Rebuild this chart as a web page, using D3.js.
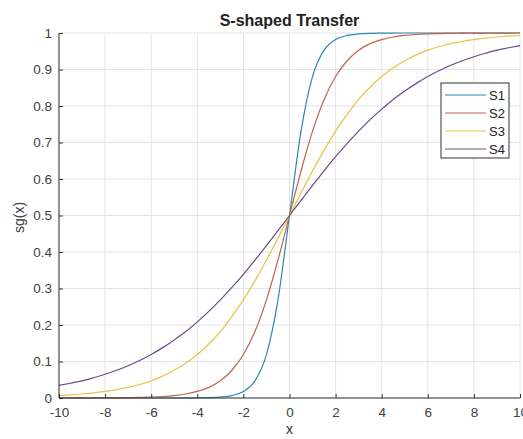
<!DOCTYPE html>
<html>
<head>
<meta charset="utf-8">
<script src="https://cdn.jsdelivr.net/npm/d3@7"></script>
<style>
  body { margin: 0; background: #fff; }
  svg { font-family: "Liberation Sans", Arial, sans-serif; }
  .grid line { stroke: #e4e4e4; stroke-width: 1; }
  .axis path, .axis line { stroke: #333; }
  .axis text { fill: #404040; font-size: 13.5px; }
</style>
</head>
<body>
<svg width="523" height="439"></svg>
<script>
// x values, every 0.5
var xs = [-10,-9.5,-9,-8.5,-8,-7.5,-7,-6.5,-6,-5.5,-5,-4.5,-4,-3.5,-3,-2.5,-2,-1.5,-1,-0.5,
          0,0.5,1,1.5,2,2.5,3,3.5,4,4.5,5,5.5,6,6.5,7,7.5,8,8.5,9,9.5,10];

var s1 = [0,0,0,0,0,0,0,0,0,0,0,0.0001,0.0003,0.0009,0.0025,0.0067,0.018,0.047,0.119,0.269,
          0.5,0.731,0.881,0.953,0.982,0.9933,0.9975,0.9991,0.9997,0.9999,1,1,1,1,1,1,1,1,1,1,1];
var s2 = [0.00005,0.00007,0.0001,0.0002,0.0003,0.0006,0.0009,0.0015,0.0025,0.0041,0.0067,0.011,0.018,0.029,0.047,0.076,0.119,0.182,0.269,0.378,
          0.5,0.622,0.731,0.818,0.881,0.924,0.953,0.971,0.982,0.989,0.9933,0.9959,0.9975,0.9985,0.9991,0.9994,0.9997,0.9998,0.9999,0.99993,0.99995];
var s3 = [0.0067,0.0086,0.011,0.014,0.018,0.023,0.029,0.037,0.047,0.060,0.076,0.095,0.119,0.148,0.182,0.223,0.269,0.321,0.378,0.438,
          0.5,0.562,0.622,0.679,0.731,0.777,0.818,0.852,0.881,0.905,0.924,0.940,0.953,0.963,0.971,0.977,0.982,0.986,0.989,0.9914,0.9933];
var s4 = [0.0345,0.0405,0.047,0.0556,0.065,0.0759,0.0884,0.1028,0.1192,0.138,0.159,0.182,0.2086,0.2375,0.269,0.303,0.339,0.3775,0.4174,0.4584,
          0.5,0.5416,0.5826,0.6225,0.661,0.697,0.731,0.7625,0.7914,0.818,0.841,0.862,0.8808,0.8972,0.9116,0.9241,0.935,0.9444,0.953,0.9595,0.9655];

var seriesNames = ["S1", "S2", "S3", "S4"];
var seriesVals = [s1, s2, s3, s4];
var colors = ["#2f86b4", "#c0634a", "#e9c24a", "#6c4a88"];

var xTicks = [-10,-8,-6,-4,-2,0,2,4,6,8,10];
var yTicks = [0,0.1,0.2,0.3,0.4,0.5,0.6,0.7,0.8,0.9,1];

var svg = d3.select("svg");
var margin = {top: 33, right: 3, bottom: 41, left: 59};
var plotWidth = 523 - margin.left - margin.right;
var plotHeight = 439 - margin.top - margin.bottom;

var xScale = d3.scaleLinear().domain([-10, 10]).range([0, plotWidth]);
var yScale = d3.scaleLinear().domain([0, 1]).range([plotHeight, 0]);

var plot = svg.append("g").attr("transform", "translate(" + margin.left + "," + margin.top + ")");

// grid
var grid = plot.append("g").attr("class", "grid");
grid.selectAll("line.v").data(xTicks).enter().append("line")
  .attr("x1", function(d) { return xScale(d); })
  .attr("x2", function(d) { return xScale(d); })
  .attr("y1", 0).attr("y2", plotHeight);
grid.selectAll("line.h").data(yTicks).enter().append("line")
  .attr("y1", function(d) { return yScale(d); })
  .attr("y2", function(d) { return yScale(d); })
  .attr("x1", 0).attr("x2", plotWidth);

// lines
var line = d3.line()
  .x(function(d) { return xScale(d[0]); })
  .y(function(d) { return yScale(d[1]); })
  .curve(d3.curveMonotoneX);

for (var i = 0; i < seriesVals.length; i++) {
  plot.append("path")
    .datum(d3.zip(xs, seriesVals[i]))
    .attr("fill", "none")
    .attr("stroke", colors[i])
    .attr("stroke-width", 1.2)
    .attr("d", line);
}

// axes
var xAxis = d3.axisBottom(xScale).tickValues(xTicks).tickSize(-4).tickPadding(9)
  .tickFormat(function(d) { return d; });
var yAxis = d3.axisLeft(yScale).tickValues(yTicks).tickSize(-4).tickPadding(7)
  .tickFormat(function(d) { return d; });

plot.append("g").attr("class", "axis")
  .attr("transform", "translate(0," + plotHeight + ")")
  .call(xAxis)
  .call(function(g) { g.select(".domain").attr("d", "M0,0H" + plotWidth); });
plot.append("g").attr("class", "axis")
  .call(yAxis)
  .call(function(g) { g.select(".domain").attr("d", "M0," + plotHeight + "V0"); });

// title and labels
svg.append("text")
  .attr("x", margin.left + xScale(0))
  .attr("y", 26)
  .attr("text-anchor", "middle")
  .style("font-size", "16px")
  .style("font-weight", "bold")
  .attr("fill", "#222")
  .text("S-shaped Transfer");

svg.append("text")
  .attr("x", margin.left + xScale(0))
  .attr("y", 434)
  .attr("text-anchor", "middle")
  .style("font-size", "14px")
  .attr("fill", "#333")
  .text("x");

svg.append("text")
  .attr("transform", "translate(24," + (margin.top + plotHeight / 2 + 2) + ") rotate(-90)")
  .attr("text-anchor", "middle")
  .style("font-size", "14px")
  .attr("fill", "#404040")
  .text("sg(x)");

// legend
var legend = svg.append("g").attr("transform", "translate(441,83)");
legend.append("rect")
  .attr("width", 68).attr("height", 75)
  .attr("fill", "#fff").attr("stroke", "#333").attr("stroke-width", 1);
var items = legend.selectAll("g.item").data(seriesNames).enter().append("g")
  .attr("transform", function(d, i) { return "translate(0," + (12 + i * 18) + ")"; });
items.append("line")
  .attr("x1", 4).attr("x2", 45)
  .attr("stroke", function(d, i) { return colors[i]; })
  .attr("stroke-width", 1.2);
items.append("text")
  .attr("x", 48).attr("y", 5)
  .style("font-size", "13px")
  .attr("fill", "#222")
  .text(function(d) { return d; });
</script>
</body>
</html>
